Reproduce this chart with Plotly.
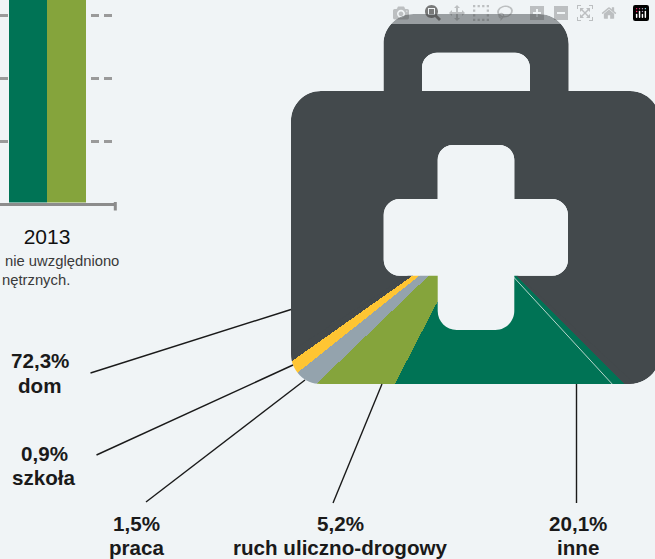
import math
import plotly.graph_objects as go

W, H = 655, 559

# --- data -----------------------------------------------------------------
shares_labels = ["dom", "szkoła", "praca", "ruch uliczno-drogowy", "inne"]
shares_text = ["72,3%", "0,9%", "1,5%", "5,2%", "20,1%"]
shares_values = [72.3, 0.9, 1.5, 5.2, 20.1]
shares_colors = ["#43494C", "#FFC533", "#94A3AD", "#85A43C", "#007355"]
inne_rule_share = 0.65          # thin light rule inside the "inne" slice

bar_category = ["2013"]
bar_series_a = [4.0]            # runs off the top of the crop
bar_series_b = [4.0]
bar_ticks = [1, 2, 3]

note_lines = ["nie uwzględniono", "nętrznych."]

BG, CASE = "#F0F4F6", "#43494C"
FONT = "Liberation Sans, Arial, sans-serif"

# --- pixel helpers --------------------------------------------------------
fx = lambda x: x / W
fy = lambda y: 1 - y / H


def rounded(points):
    """Closed sub-path through (x, y, corner radius) vertices, in paper units."""
    n, out = len(points), []
    for i, (x, y, r) in enumerate(points):
        px, py, _ = points[i - 1]
        nx, ny, _ = points[(i + 1) % n]
        if r == 0:
            out.append(("L", x, y))
            continue
        d1 = ((px - x) ** 2 + (py - y) ** 2) ** 0.5
        d2 = ((nx - x) ** 2 + (ny - y) ** 2) ** 0.5
        a = (x + (px - x) * r / d1, y + (py - y) * r / d1)
        b = (x + (nx - x) * r / d2, y + (ny - y) * r / d2)
        k = 0.5523
        c1 = (a[0] + (x - a[0]) * k, a[1] + (y - a[1]) * k)
        c2 = (b[0] + (x - b[0]) * k, b[1] + (y - b[1]) * k)
        out.append(("L", *a))
        out.append(("C", *c1, *c2, *b))
    s = ""
    for j, seg in enumerate(out):
        cmd = "M" if j == 0 else seg[0]
        v = seg[1:]
        s += cmd + " ".join(
            f"{fx(v[i]):.6f},{fy(v[i + 1]):.6f}" for i in range(0, len(v), 2)
        ) + " "
    return s + "Z "


outline = rounded([(291, 91, 30), (383.5, 91, 0), (383.5, 14, 30), (568.7, 14, 30),
                   (568.7, 91, 0), (660, 91, 30), (660, 384, 30), (291, 384, 30)])
handle_hole = rounded([(422, 91, 0), (422, 52.7, 15), (530, 52.7, 15), (530, 91, 0)])
cross = rounded([(437.7, 145, 15), (514.3, 145, 15), (514.3, 199, 0), (568, 199, 16),
                 (568, 275.7, 16), (514.3, 275.7, 0), (514.3, 330, 19), (437.7, 330, 19),
                 (437.7, 275.7, 0), (383.7, 275.7, 16), (383.7, 199, 16), (437.7, 199, 0)])
outer = rounded([(270, -5, 0), (670, -5, 0), (670, 564, 0), (270, 564, 0)])

# --- wedges: the shares laid out clockwise from the "inne" edge -------------
START = 135.0          # clockwise from north, where "inne" begins
CX, CY, R = 473.0, 233.0, 228.0
order = [4, 3, 2, 1, 0]
thetas, widths, colors = [], [], []
pos = START
for i in order:
    w = shares_values[i] * 3.6
    thetas.append(pos + w / 2)
    widths.append(w)
    colors.append(shares_colors[i])
    pos += w

fig = go.Figure()
fig.add_trace(go.Barpolar(
    r=[1] * 5, theta=thetas, width=widths, marker=dict(color=colors, line=dict(width=0)),
    text=[shares_labels[i] for i in order], hoverinfo="text", showlegend=False,
))
rule_angle = START + inne_rule_share * 3.6
fig.add_trace(go.Scatterpolar(
    r=[0, 1], theta=[rule_angle, rule_angle], mode="lines",
    line=dict(color="#E8F0EC", width=0.8), hoverinfo="skip", showlegend=False,
))

# sector span, padded a little past the wedges (clockwise from north)
a_min, a_max = 133.0, 237.0
sx_l = math.cos(math.radians(90 - a_max))
sx_r = math.cos(math.radians(90 - a_min))

# --- cropped bars ---------------------------------------------------------
fig.add_trace(go.Bar(x=bar_category, y=bar_series_a, marker=dict(color="#007355", line=dict(width=0)),
                     xaxis="x", yaxis="y", showlegend=False))
fig.add_trace(go.Bar(x=bar_category, y=bar_series_b, marker=dict(color="#85A43C", line=dict(width=0)),
                     xaxis="x", yaxis="y", showlegend=False))

BASE_Y = 202.5
GRID_STEP = 63.0
GRID_ZERO = 204.7

shapes = [
    dict(type="path", path=outline + handle_hole + cross, fillcolor=CASE,
         line=dict(width=0), layer="below", xref="paper", yref="paper"),
    dict(type="path", path=outer + outline + handle_hole + cross, fillcolor=BG,
         line=dict(width=0), layer="above", xref="paper", yref="paper"),
    dict(type="line", x0=fx(115.3), x1=fx(115.3), y0=fy(202), y1=fy(210.5),
         xref="paper", yref="paper", line=dict(color="#8C8C8C", width=3), layer="above"),
]
leaders = [((90.5, 373), (291, 309.5)), ((96.5, 455), (293, 365)), ((146, 502), (305, 380)),
           ((333, 503), (382, 384)), ((576.5, 503), (576.5, 384))]
for (x0, y0), (x1, y1) in leaders:
    shapes.append(dict(type="line", x0=fx(x0), y0=fy(y0), x1=fx(x1), y1=fy(y1),
                       xref="paper", yref="paper", layer="above",
                       line=dict(color="#1A1A1A", width=1.4)))

annotations = []


def label(text, x, baseline, size=20.6, bold=True, color="#1A1A1A", anchor="center"):
    annotations.append(dict(
        text=f"<b>{text}</b>" if bold else text, x=fx(x), y=fy(baseline - 0.35 * size),
        xref="paper", yref="paper", xanchor=anchor, yanchor="middle", showarrow=False,
        font=dict(family=FONT, size=size, color=color),
    ))


positions = [(39.5, 368, 392.5), (44, 461, 485), (136.5, 530.5, 555), (340, 530.5, 555), (578, 530.5, 555)]
for t, name, (x, b1, b2) in zip(shares_text, shares_labels, positions):
    label(t, x, b1)
    label(name, x, b2)

label(note_lines[0], 3, 265.7, size=14.8, bold=False, color="#3A3A3A", anchor="left")
label(note_lines[1], 0, 285, size=14.8, bold=False, color="#3A3A3A", anchor="left")

u = 77.0
fig.update_layout(
    width=W, height=H, margin=dict(l=0, r=0, t=0, b=0),
    paper_bgcolor=BG, plot_bgcolor="rgba(0,0,0,0)",
    barmode="group", bargap=0, bargroupgap=0, showlegend=False,
    font=dict(family=FONT),
    shapes=shapes, annotations=annotations,
    xaxis=dict(domain=[0, fx(116)], range=[-47 / u, 69 / u], type="category",
               categoryorder="array", categoryarray=bar_category,
               showline=True, linecolor="#8C8C8C", linewidth=3, showgrid=False, zeroline=False,
               ticks="", ticklabelstandoff=13, tickfont=dict(family=FONT, size=21, color="#111111"),
               anchor="y", layer="above traces"),
    yaxis=dict(domain=[fy(BASE_Y), 1],
               range=[(GRID_ZERO - BASE_Y) / GRID_STEP, GRID_ZERO / GRID_STEP],
               tickvals=bar_ticks, showticklabels=False, ticks="", showline=False, zeroline=False,
               showgrid=True, gridcolor="#9A9A9A", gridwidth=2.5, griddash="8px,5px", anchor="x"),
    polar=dict(
        domain=dict(x=[fx(CX + sx_l * R), fx(CX + sx_r * R)], y=[fy(CY + R), fy(CY)]),
        sector=[90 - a_max, 90 - a_min], bgcolor="rgba(0,0,0,0)",
        radialaxis=dict(range=[0, 1], visible=False, showgrid=False),
        angularaxis=dict(direction="clockwise", rotation=90, visible=False, showgrid=False),
        barmode="overlay", bargap=0,
    ),
)

fig.write_html("out.html",
               post_script="document.body.style.margin='0';"
                           "document.body.style.background='" + BG + "';"
                           "document.documentElement.style.overflow='hidden';")
